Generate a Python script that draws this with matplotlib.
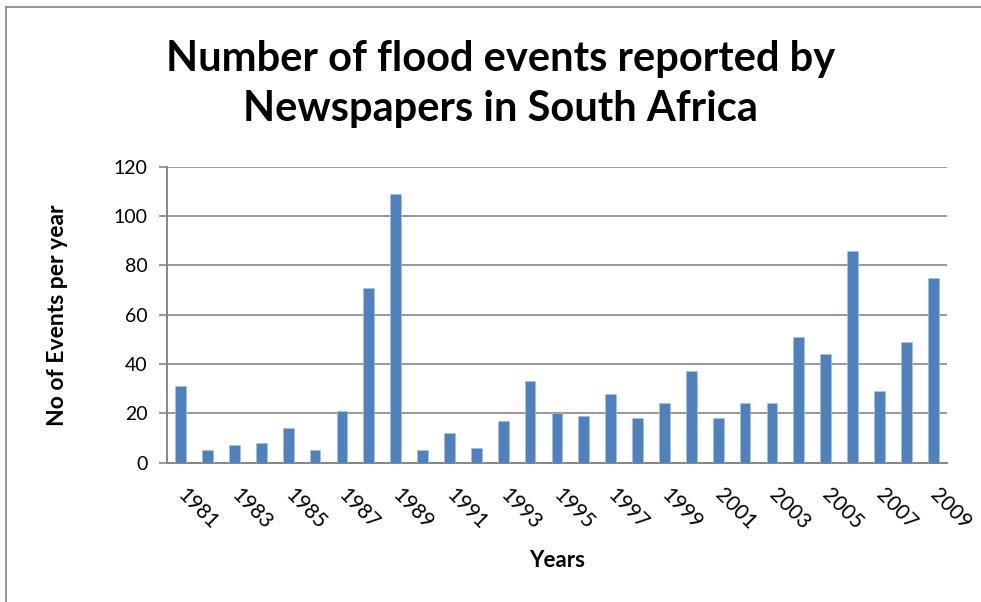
import matplotlib.pyplot as plt
from matplotlib.lines import Line2D
import numpy as np

# flood events reported per year
years = list(range(1981, 2010))
events = [31, 5, 7, 8, 14, 5, 21, 71, 109, 5, 12, 6, 17, 33, 20, 19, 28, 18,
          24, 37, 18, 24, 24, 51, 44, 86, 29, 49, 75]
y_ticks = [0, 20, 40, 60, 80, 100, 120]

bar_color = '#4F81BD'
grid_color = '#868686'

plt.rcParams['font.family'] = ['Lato', 'DejaVu Sans']

fig = plt.figure(figsize=(9.81, 6.02), dpi=100)
ax = fig.add_axes([0.1705, 0.2314, 0.7945, 0.4917])

x = np.arange(len(years))
ax.bar(x, events, width=0.4, color=bar_color, edgecolor='#A7BFDE',
       linewidth=0.5, zorder=3)

ax.set_xlim(-0.5, len(years) - 0.5)
ax.set_ylim(0, 120)
ax.set_yticks(y_ticks)
ax.set_yticklabels([str(v) for v in y_ticks], fontsize=14)
ax.yaxis.grid(True, color=grid_color, linewidth=1.2, zorder=0)
ax.set_axisbelow(True)

# only every other year gets a label
ax.set_xticks(x[::2])
ax.set_xticklabels([str(y) for y in years[::2]], fontsize=15,
                   rotation=-45, ha='left', va='center',
                   rotation_mode='anchor')
ax.tick_params(axis='x', length=0, pad=21)
ax.tick_params(axis='y', direction='out', length=6, width=1.2,
               color=grid_color, pad=8)

for side in ('top', 'right'):
    ax.spines[side].set_visible(False)
for side in ('left', 'bottom'):
    ax.spines[side].set_color(grid_color)
    ax.spines[side].set_linewidth(1.4)

ax.set_ylabel('No of Events per year', fontsize=16.5, fontweight='bold')
ax.yaxis.set_label_coords(-0.141, 0.5)
ax.set_xlabel('Years', fontsize=16, fontweight='bold')
ax.xaxis.set_label_coords(0.5, -0.329)
ax.xaxis.label.set_va('center')
ax.yaxis.label.set_va('center')

fig.text(0.51, 0.861, 'Number of flood events reported by\nNewspapers in South Africa',
         ha='center', va='center', fontsize=30, fontweight='bold',
         linespacing=1.38)

# chart area border (left and top edges)
fig.add_artist(Line2D([0.0066, 0.0066], [0.0, 0.9892], transform=fig.transFigure,
                      color='#8C8C8C', linewidth=1.3))
fig.add_artist(Line2D([0.0066, 1.0], [0.9892, 0.9892], transform=fig.transFigure,
                      color='#8C8C8C', linewidth=1.3))

fig.savefig('out.png', dpi=100)
